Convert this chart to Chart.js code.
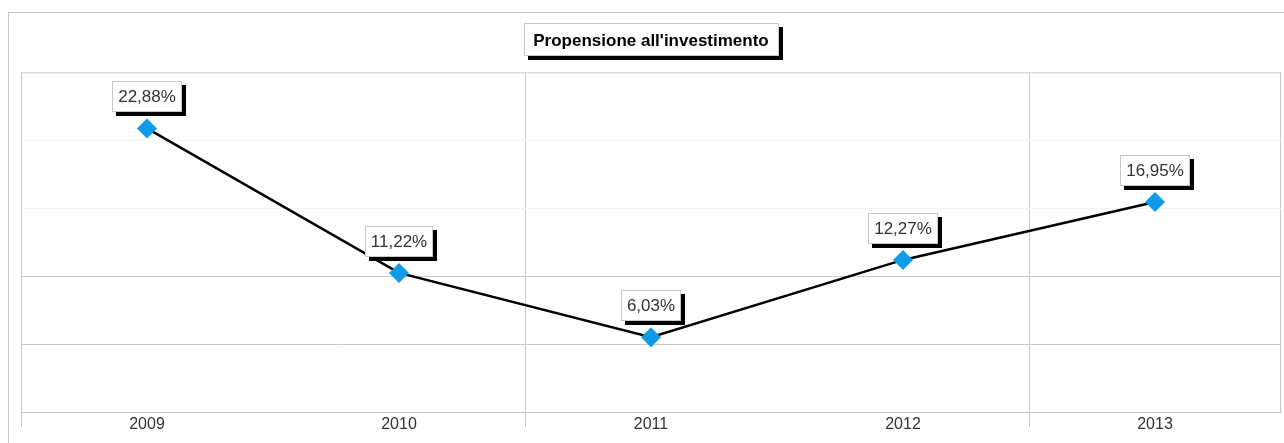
<!DOCTYPE html>
<html>
<head>
<meta charset="utf-8">
<script src="https://cdn.jsdelivr.net/npm/chart.js@4.4.0/dist/chart.umd.min.js"></script>
<style>
  html, body { margin:0; padding:0; background:#fff; }
  #wrap { width:1284px; height:443px; }
</style>
</head>
<body>
<div id="wrap"><canvas id="chart"></canvas></div>
<script>
// data
var years = ['2009', '2010', '2011', '2012', '2013'];
var values = [22.88, 11.22, 6.03, 12.27, 16.95];
var yMax = 27.4;
var yStep = 5.48;

function fmt(v){
    return v.toFixed(2).replace('.', ',') + '%';
}

// box with black drop shadow (title + value labels)
function shadowBox(ctx, x, y, w, h){
    ctx.save();
    ctx.fillStyle = '#000';
    ctx.fillRect(x + 4, y + 4, w, h);
    ctx.fillStyle = '#fff';
    ctx.fillRect(x, y, w, h);
    ctx.strokeStyle = '#c8c8c8';
    ctx.lineWidth = 1;
    ctx.strokeRect(x + 0.5, y + 0.5, w - 1, h - 1);
    ctx.restore();
}

var frame = {
    id: 'frame',
    beforeDraw: function(chart){
        var ctx = chart.ctx;
        var a = chart.chartArea;
        ctx.save();
        ctx.strokeStyle = '#c8c8c8';
        ctx.lineWidth = 1;
        ctx.strokeRect(8.5, 12.5, 1300, 460);
        ctx.strokeRect(a.left + 0.5, a.top + 0.5, a.right - a.left - 1, a.bottom - a.top);
        ctx.restore();
        // title box
        var t = chart.titleBlock;
        if (t) {
            ctx.save();
            ctx.font = t.options.font.weight + ' ' + t.options.font.size + 'px ' + t.options.font.family;
            var tw = ctx.measureText(chart.options.plugins.title.text).width;
            ctx.restore();
            var cx = (t.left + t.right) / 2;
            shadowBox(ctx, Math.round(cx - tw / 2 - 9), 23, Math.round(tw + 20), 33);
        }
    }
};

var valueLabels = {
    id: 'valueLabels',
    afterDatasetsDraw: function(chart){
        var ctx = chart.ctx;
        var meta = chart.getDatasetMeta(0);
        ctx.save();
        ctx.font = '17px "Liberation Sans", Arial, sans-serif';
        meta.data.forEach(function(pt, i){
            var txt = fmt(values[i]);
            var w = ctx.measureText(txt).width + 12;
            var h = 31;
            var x = Math.round(pt.x - w / 2);
            var y = Math.round(pt.y - 16 - h);
            shadowBox(ctx, x, y, Math.round(w), h);
            ctx.fillStyle = '#333';
            ctx.textAlign = 'center';
            ctx.textBaseline = 'middle';
            ctx.fillText(txt, pt.x, y + h / 2 + 1);
        });
        ctx.restore();
    }
};

var chart = new Chart(document.getElementById('chart'), {
    type: 'line',
    data: {
        labels: years,
        datasets: [{
            data: values,
            borderColor: '#000',
            borderWidth: 2.5,
            tension: 0,
            pointStyle: 'rectRot',
            pointRadius: 10,
            pointHoverRadius: 10,
            pointBackgroundColor: '#0f9be6',
            pointBorderColor: '#0f9be6',
            pointBorderWidth: 0
        }]
    },
    options: {
        responsive: true,
        maintainAspectRatio: false,
        animation: false,
        layout: {
            autoPadding: false,
            padding: { left: 21, right: 3, top: 0, bottom: 0 }
        },
        plugins: {
            legend: { display: false },
            tooltip: { enabled: false },
            title: {
                display: true,
                text: "Propensione all'investimento",
                color: '#000',
                font: { family: '"Liberation Sans", Arial, sans-serif', size: 17, weight: 'bold' },
                padding: { top: 31, bottom: 21 }
            }
        },
        scales: {
            x: {
                offset: true,
                afterFit: function(scale){
                    scale.height = 31;
                    scale.paddingLeft = 0;
                    scale.paddingRight = 0;
                },
                grid: {
                    offset: true,
                    drawTicks: true,
                    tickLength: 15,
                    color: function(c){
                        return (c.index % 2 === 0 && c.index < 5) ? '#c8c8c8' : 'rgba(0,0,0,0)';
                    }
                },
                border: { display: true, color: '#c8c8c8' },
                ticks: {
                    color: '#333',
                    padding: -12,
                    font: { family: '"Liberation Sans", Arial, sans-serif', size: 16 }
                }
            },
            y: {
                min: 0,
                max: yMax,
                ticks: { display: false, stepSize: yStep },
                grid: {
                    drawTicks: false,
                    color: function(c){
                        if (c.index === 1 || c.index === 2) return '#cccccc';
                        if (c.index === 3 || c.index === 4) return '#f6f6f6';
                        return 'rgba(0,0,0,0)';
                    }
                },
                border: { display: true, color: '#c8c8c8' }
            }
        }
    },
    plugins: [frame, valueLabels]
});
</script>
</body>
</html>
